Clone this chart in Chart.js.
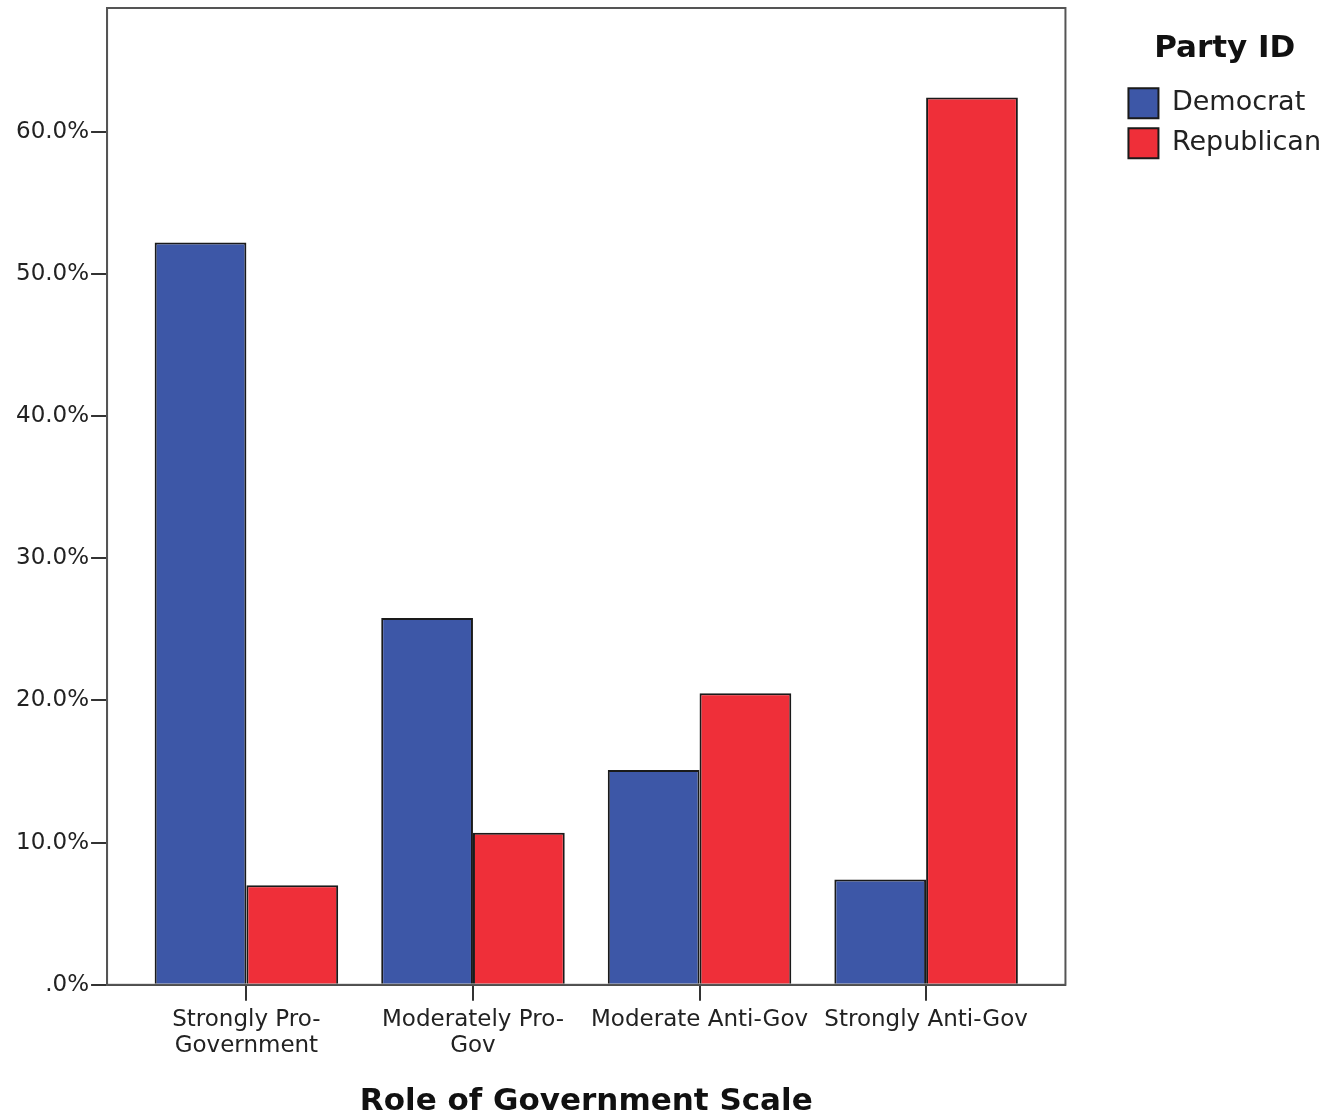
<!DOCTYPE html>
<html>
<head>
<meta charset="utf-8">
<script src="https://cdn.jsdelivr.net/npm/chart.js@4.4.1/dist/chart.umd.min.js"></script>
<style>
  html, body { margin: 0; padding: 0; background: #fff; }
  #wrap { width: 1327px; height: 1118px; }
</style>
</head>
<body>
<div id="wrap"><canvas id="chart"></canvas></div>
<script>
// Role of Government Scale by Party ID (percent within party)
const categories = [
    ['Strongly Pro-', 'Government'],
    ['Moderately Pro-', 'Gov'],
    'Moderate Anti-Gov',
    'Strongly Anti-Gov'
];
const democrat = [52.2, 25.8, 15.1, 7.4];
const republican = [7.0, 10.7, 20.5, 62.4];
const yTicks = [0, 10, 20, 30, 40, 50, 60];

const colors = {
    democrat: '#3d57a7',
    republican: '#ef2f39'
};

function toPoints(values) {
    return values.map((v, i) => ({ x: i, y: v }));
}

// frame around the plot area
const framePlugin = {
    id: 'frame',
    afterDraw(chart) {
        const a = chart.chartArea;
        const c = chart.ctx;
        c.save();
        c.strokeStyle = '#555';
        c.lineWidth = 2;
        c.strokeRect(a.left, a.top, a.right - a.left, a.bottom - a.top);
        c.restore();
    }
};

const ctx = document.getElementById('chart').getContext('2d');
new Chart(ctx, {
    type: 'bar',
    data: {
        datasets: [
            {
                label: 'Democrat',
                data: toPoints(democrat),
                backgroundColor: colors.democrat,
                borderColor: '#1a1a1a',
                borderWidth: 2
            },
            {
                label: 'Republican',
                data: toPoints(republican),
                backgroundColor: colors.republican,
                borderColor: '#1a1a1a',
                borderWidth: 2
            }
        ]
    },
    options: {
        responsive: true,
        maintainAspectRatio: false,
        animation: false,
        categoryPercentage: 0.81,
        barPercentage: 1.0,
        layout: {
            padding: { top: 8, right: -4, bottom: 0, left: 14 }
        },
        font: { family: 'DejaVu Sans' },
        scales: {
            x: {
                type: 'linear',
                min: -0.615,
                max: 3.615,
                offset: false,
                afterBuildTicks: function(scale) {
                    scale.ticks = categories.map((c, i) => ({ value: i }));
                },
                grid: {
                    offset: false,
                    drawOnChartArea: false,
                    drawTicks: true,
                    tickLength: 16,
                    tickColor: '#333',
                    lineWidth: 2
                },
                border: { display: true, color: '#333', width: 2 },
                ticks: {
                    autoSkip: false,
                    maxRotation: 0,
                    padding: 6,
                    color: '#222',
                    font: { family: 'DejaVu Sans', size: 23, lineHeight: 1.13 },
                    callback: function(value) {
                        return categories[value];
                    }
                },
                title: {
                    display: true,
                    text: 'Role of Government Scale',
                    color: '#111',
                    font: { family: 'DejaVu Sans', size: 31, weight: 'bold' },
                    padding: { top: 19, bottom: -3 }
                }
            },
            y: {
                min: 0,
                max: 68.7,
                grid: {
                    drawOnChartArea: false,
                    drawTicks: true,
                    tickLength: 16,
                    tickColor: '#333',
                    lineWidth: 2
                },
                border: { display: true, color: '#555', width: 2 },
                afterBuildTicks: function(scale) {
                    scale.ticks = yTicks.map(v => ({ value: v }));
                },
                afterFit: function(scale) {
                    scale.paddingTop = 0;
                },
                ticks: {
                    padding: 2,
                    color: '#222',
                    font: { family: 'DejaVu Sans', size: 23 },
                    callback: function(value) {
                        return value === 0 ? '.0%' : value.toFixed(1) + '%';
                    }
                }
            },
            // empty spacer between plot and legend
            gap: {
                type: 'linear',
                axis: 'y',
                position: 'right',
                grid: { display: false },
                border: { display: false },
                ticks: { display: false },
                afterFit: function(scale) {
                    scale.width = 53;
                }
            }
        },
        plugins: {
            legend: {
                position: 'right',
                align: 'start',
                title: {
                    display: true,
                    text: 'Party ID',
                    color: '#111',
                    font: { family: 'DejaVu Sans', size: 31, weight: 'bold' },
                    padding: { top: 25, bottom: 8 }
                },
                labels: {
                    boxWidth: 30,
                    boxHeight: 30,
                    padding: 10,
                    color: '#222',
                    font: { family: 'DejaVu Sans', size: 27 }
                }
            },
            tooltip: { enabled: false }
        }
    },
    plugins: [framePlugin]
});
</script>
</body>
</html>
